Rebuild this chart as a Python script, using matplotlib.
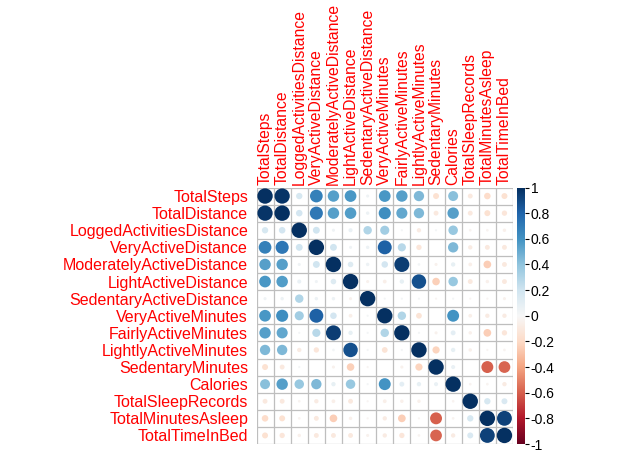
import numpy as np
import matplotlib
matplotlib.use("Agg")
import matplotlib.pyplot as plt
from matplotlib.patches import Circle
from matplotlib.cm import ScalarMappable
from matplotlib.colors import Normalize

plt.rcParams["font.family"] = ["Liberation Sans", "DejaVu Sans"]

labels = [
    "TotalSteps", "TotalDistance", "LoggedActivitiesDistance",
    "VeryActiveDistance", "ModeratelyActiveDistance", "LightActiveDistance",
    "SedentaryActiveDistance", "VeryActiveMinutes", "FairlyActiveMinutes",
    "LightlyActiveMinutes", "SedentaryMinutes", "Calories",
    "TotalSleepRecords", "TotalMinutesAsleep", "TotalTimeInBed",
]

# upper triangle of the correlation matrix, row by row (diagonal first)
corr_upper = [
    [1, 0.98, 0.17, 0.68, 0.55, 0.58, 0.04, 0.58, 0.55, 0.45, -0.15, 0.42, -0.10, -0.18, -0.15],
    [1, 0.18, 0.72, 0.55, 0.56, 0.05, 0.62, 0.52, 0.45, -0.10, 0.55, -0.10, -0.15, -0.12],
    [1, 0.20, 0.04, 0.07, 0.30, 0.35, 0.02, -0.08, 0.02, 0.38, -0.03, -0.03, -0.05],
    [1, 0.20, 0.04, 0.05, 0.82, 0.28, -0.12, 0.00, 0.45, -0.08, -0.10, -0.10],
    [1, 0.13, 0.05, 0.18, 0.95, 0.03, -0.04, 0.08, -0.06, -0.25, -0.10],
    [1, -0.04, -0.06, 0.08, 0.88, -0.24, 0.38, -0.10, -0.05, -0.10],
    [1, 0.02, 0.02, 0.02, -0.02, 0.02, -0.02, -0.02, -0.04],
    [1, 0.30, -0.14, 0.00, 0.60, -0.06, -0.08, -0.08],
    [1, 0.02, -0.04, 0.10, -0.05, -0.25, -0.12],
    [1, -0.22, 0.08, -0.05, -0.02, -0.03],
    [1, 0.07, 0.00, -0.60, -0.58],
    [1, -0.03, -0.03, -0.08],
    [1, 0.17, 0.15],
    [1, 0.93],
    [1],
]

cbar_ticks = [1, 0.8, 0.6, 0.4, 0.2, 0, -0.2, -0.4, -0.6, -0.8, -1]

n = len(labels)
corr = np.zeros((n, n))
for i, row in enumerate(corr_upper):
    corr[i, i:] = row
    corr[i:, i] = row

W, H = 620, 454
fig = plt.figure(figsize=(W / 100, H / 100), dpi=100)

# grid area in pixels
gx0, gx1, gy0, gy1 = 256.5, 513.0, 187.5, 444.0
ax = fig.add_axes([gx0 / W, 1 - gy1 / H, (gx1 - gx0) / W, (gy1 - gy0) / H])

cmap = plt.get_cmap("RdBu")
norm = Normalize(-1, 1)

for i in range(n):
    for j in range(n):
        r = corr[i, j]
        rad = 0.45 * np.sqrt(abs(r))
        if rad <= 0:
            continue
        ax.add_patch(Circle((j, i), rad, facecolor=cmap(norm(r)),
                            edgecolor="none", zorder=2))

for k in range(n + 1):
    ax.axhline(k - 0.5, color="#BEBEBE", lw=0.9, zorder=1)
    ax.axvline(k - 0.5, color="#BEBEBE", lw=0.9, zorder=1)

ax.set_xlim(-0.5, n - 0.5)
ax.set_ylim(n - 0.5, -0.5)
for s in ax.spines.values():
    s.set_visible(False)

ax.xaxis.tick_top()
ax.set_xticks(range(n))
ax.set_xticklabels(labels, rotation=90, color="red", fontsize=11.3)
ax.set_yticks(range(n))
ax.set_yticklabels(labels, color="red", fontsize=11.5)
ax.tick_params(axis="y", length=0, pad=6)
ax.tick_params(axis="x", length=0, pad=2)

# colour legend
cax = fig.add_axes([516.5 / W, 1 - gy1 / H, 8.5 / W, (gy1 - gy0) / H])
cb = fig.colorbar(ScalarMappable(norm=norm, cmap=cmap), cax=cax)
cb.outline.set_visible(False)
cb.set_ticks(cbar_ticks)
cb.set_ticklabels([f"{t:g}" for t in cbar_ticks])
cax.tick_params(length=3, width=0.8, pad=1, labelsize=10)

fig.savefig("out.png", dpi=100)
